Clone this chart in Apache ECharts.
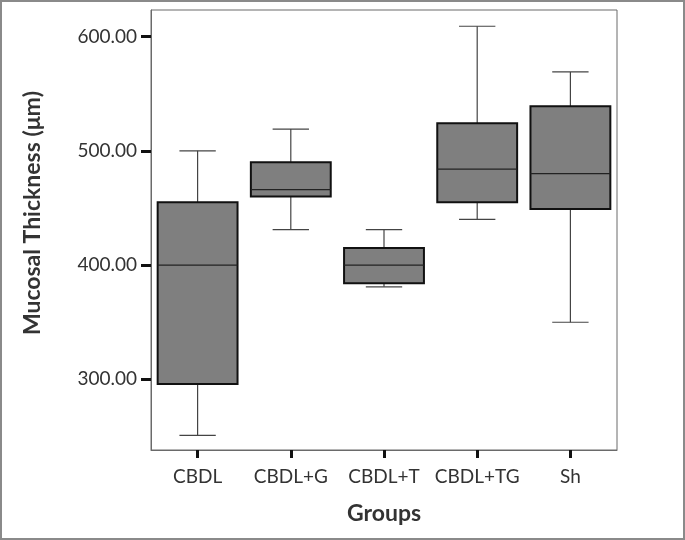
<!DOCTYPE html>
<html>
<head>
<meta charset="utf-8">
<script src="https://cdn.jsdelivr.net/npm/echarts@6/dist/echarts.min.js"></script>
<style>html,body{margin:0;padding:0;background:#fff}#c{width:685px;height:540px}</style>
</head>
<body>
<div id="c"></div>
<script>
var categories = ['CBDL', 'CBDL+G', 'CBDL+T', 'CBDL+TG', 'Sh'];
var lowWhisker = [251, 431, 381, 440, 350];
var q1 = [296, 460, 384, 455, 449];
var median = [400, 466, 400, 484, 480];
var q3 = [455, 490, 415, 524, 539];
var highWhisker = [500, 519, 431, 609, 569];
var yTicks = [300, 400, 500, 600];

var data = categories.map(function (c, i) {
  return [i, lowWhisker[i], q1[i], median[i], q3[i], highWhisker[i]];
});

var chart = echarts.init(document.getElementById('c'), null, {renderer: 'canvas'});
var font = 'Lato, "Open Sans", sans-serif';
chart.setOption({
  animation: false,
  backgroundColor: '#fff',
  grid: {left: 151, right: 68, top: 10, bottom: 90, show: true, borderColor: '#6a6a6a', borderWidth: 1},
  xAxis: {
    type: 'category',
    data: categories,
    boundaryGap: true,
    axisLine: {lineStyle: {color: '#6a6a6a', width: 1}},
    axisTick: {show: true, interval: 0, alignWithLabel: true, length: 8, lineStyle: {color: '#111', width: 3}},
    axisLabel: {interval: 0, margin: 17, fontFamily: font, fontSize: 19, color: '#333'},
    name: 'Groups',
    nameLocation: 'middle',
    nameGap: 52,
    nameTextStyle: {fontFamily: font, fontSize: 23, fontWeight: 'bold', color: '#333'}
  },
  yAxis: {
    type: 'value',
    min: 238.2,
    max: 623.2,
    splitLine: {show: false},
    axisLine: {show: true, lineStyle: {color: '#6a6a6a', width: 1}},
    axisTick: {show: true, length: 10, customValues: yTicks, lineStyle: {color: '#111', width: 3}},
    axisLabel: {margin: 14, customValues: yTicks, fontFamily: font, fontSize: 19, color: '#333',
      formatter: function (v) { return v.toFixed(2); }}
  },
  graphic: [
    {type: 'rect', shape: {x: 1, y: 1, width: 683, height: 538}, style: {fill: 'none', stroke: '#8a8a8a', lineWidth: 2}, silent: true},
    {type: 'text', x: 33, y: 213, rotation: Math.PI / 2,
      style: {text: 'Mucosal Thickness (μm)', font: 'bold 23px ' + font, fill: '#333', align: 'center', verticalAlign: 'middle'}}
  ],
  series: [{
    type: 'custom',
    data: data,
    encode: {x: 0, y: [1, 2, 3, 4, 5]},
    renderItem: function (params, api) {
      var idx = api.value(0);
      var band = api.size([1, 0])[0];
      var bw = band * 0.857;
      var cw = band * 0.39;
      var pLow = api.coord([idx, api.value(1)]);
      var pQ1 = api.coord([idx, api.value(2)]);
      var pMed = api.coord([idx, api.value(3)]);
      var pQ3 = api.coord([idx, api.value(4)]);
      var pHigh = api.coord([idx, api.value(5)]);
      var cx = pLow[0];
      var wStyle = {stroke: '#444', lineWidth: 1.2};
      return {
        type: 'group',
        children: [
          {type: 'line', shape: {x1: cx, y1: pHigh[1], x2: cx, y2: pQ3[1]}, style: wStyle},
          {type: 'line', shape: {x1: cx, y1: pQ1[1], x2: cx, y2: pLow[1]}, style: wStyle},
          {type: 'line', shape: {x1: cx - cw / 2, y1: pHigh[1], x2: cx + cw / 2, y2: pHigh[1]}, style: wStyle},
          {type: 'line', shape: {x1: cx - cw / 2, y1: pLow[1], x2: cx + cw / 2, y2: pLow[1]}, style: wStyle},
          {type: 'rect', shape: {x: cx - bw / 2, y: pQ3[1], width: bw, height: pQ1[1] - pQ3[1]},
            style: {fill: '#7f7f7f', stroke: '#111', lineWidth: 2}},
          {type: 'line', shape: {x1: cx - bw / 2, y1: pMed[1], x2: cx + bw / 2, y2: pMed[1]},
            style: {stroke: '#222', lineWidth: 1.3}}
        ]
      };
    }
  }]
});
</script>
</body>
</html>
